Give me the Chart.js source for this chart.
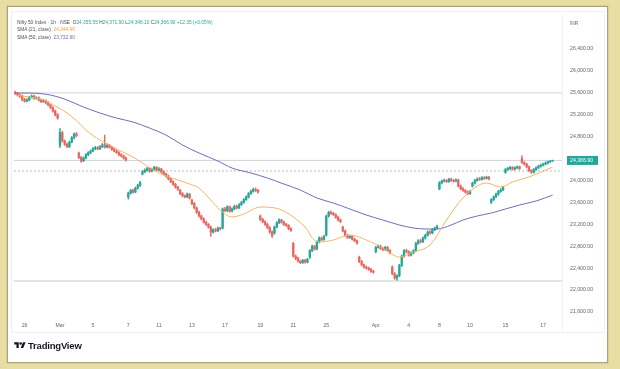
<!DOCTYPE html>
<html><head><meta charset="utf-8">
<script src="https://cdn.jsdelivr.net/npm/chart.js@4.4.1/dist/chart.umd.min.js"></script>
<style>
html,body{margin:0;padding:0;width:620px;height:369px;overflow:hidden;background:#e8dda3;font-family:"Liberation Sans",Arial,sans-serif;}
#card{position:absolute;left:7px;top:6px;width:599px;height:355px;background:#fff;border:1px solid #a9a382;box-shadow:0 0 1px #8c8668;}
#widget{position:absolute;left:11px;top:11px;width:592px;height:320px;border:1px solid #eef0f3;}
canvas{position:absolute;left:0;top:0;}
.lg{position:absolute;left:17px;font-size:4.8px;line-height:6px;color:#4a4d57;white-space:nowrap;}
.g{color:#26a69a;}
.o{color:#f0a04a;}
.p{color:#6b6ab5;}
#inr{position:absolute;left:570px;top:21px;font-size:4.8px;line-height:6px;color:#666;}
#logo{position:absolute;left:14px;top:339px;height:12px;display:flex;align-items:center;gap:2px;color:#131722;font-weight:bold;font-size:9.5px;letter-spacing:-0.2px;}
</style>
</head><body>
<div id="card"></div>
<div id="widget"></div>
<canvas id="c" width="620" height="369"></canvas>
<div class="lg" style="top:19.5px">Nifty 50 Index · 1h · NSE&nbsp; O<span class="g">24,355.55</span> H<span class="g">24,371.90</span> L<span class="g">24,348.10</span> C<span class="g">24,366.90</span> <span class="g">+12.35 (+0.05%)</span></div>
<div class="lg" style="top:27px">SMA (21, close)&nbsp; <span class="o">24,244.96</span></div>
<div class="lg" style="top:34.5px">SMA (50, close)&nbsp; <span class="p">23,732.90</span></div>
<div id="inr">INR</div>
<div id="logo"><svg width="12" height="9" viewBox="0 0 36 28"><path fill="#131722" d="M14 22H7V11H0V4h14v18zM28 22h-8l7.5-18h8L28 22z"/><circle cx="20" cy="8" r="4" fill="#131722"/></svg><span>TradingView</span></div>
<script>
const opens = [
25610,25590,25560,25540,25480,25450,25470,25520,25540,25500,
25510,25470,25440,25460,25420,25380,25330,25270,25200,24640,
24870,24720,24660,24620,24700,24780,24850,24500,24420,24360,
24410,24470,24510,24540,24580,24600,24580,24620,24650,24610,
24640,24610,24570,24540,24510,24470,24450,24410,23700,23770,
23820,23790,23860,23910,24120,24160,24190,24220,24170,24200,
24240,24190,24210,24160,24120,24080,24030,23980,23930,23880,
23820,23760,23720,23700,23750,23640,23580,23500,23420,23350,
23300,23240,23200,23150,23060,23100,23080,23130,23130,23480,
23450,23520,23440,23480,23530,23500,23560,23600,23650,23700,
23760,23800,23840,23820,23350,23290,23250,23200,23140,23060,
23040,23150,23230,23280,23240,23200,23180,23120,22850,22620,
22580,22530,22500,22540,22510,22600,22720,22800,22750,22880,
22950,22920,23000,23350,23420,23400,23380,23330,23280,23150,
23080,23000,22960,22980,22930,22900,22600,22520,22460,22420,
22400,22380,22340,22700,22780,22800,22760,22740,22780,22720,
22420,22300,22220,22260,22450,22620,22720,22700,22640,22680,
22720,22850,22900,22880,22950,23000,23060,23040,23100,23130,
23850,23960,23990,24000,23980,24020,24000,23990,24010,23900,
23850,23820,23790,23760,23900,23950,24000,24030,24020,24050,
24040,24060,23600,23650,23700,23750,23800,23830,24150,24200,
24220,24240,24210,24230,24250,24400,24330,24300,24250,24180,
24150,24200,24230,24260,24280,24300,24320,24340,24355.55];
const closes = [
25590,25560,25540,25480,25450,25470,25520,25540,25500,25510,
25470,25440,25460,25420,25380,25330,25270,25200,25140,24880,
24720,24660,24620,24700,24780,24850,24820,24420,24360,24410,
24470,24510,24540,24580,24600,24580,24620,24650,24610,24640,
24610,24570,24540,24510,24470,24450,24410,24380,23770,23820,
23790,23860,23910,23960,24160,24190,24220,24170,24200,24240,
24190,24210,24160,24120,24080,24030,23980,23930,23880,23840,
23760,23720,23700,23750,23680,23580,23500,23420,23350,23300,
23240,23200,23150,23060,23100,23080,23130,23120,23480,23450,
23520,23440,23480,23530,23500,23560,23600,23650,23700,23760,
23800,23840,23820,23790,23290,23250,23200,23140,23060,22990,
23150,23230,23280,23240,23200,23180,23120,23090,22620,22580,
22530,22500,22540,22510,22560,22720,22800,22750,22880,22950,
22920,22980,23350,23420,23400,23380,23330,23280,23250,23080,
23000,22960,22980,22930,22900,22860,22520,22460,22420,22400,
22380,22340,22330,22780,22800,22760,22740,22780,22720,22680,
22300,22220,22260,22450,22620,22720,22700,22640,22680,22720,
22850,22900,22880,22950,23000,23060,23040,23100,23130,23160,
23960,23990,24000,23980,24020,24000,23990,24010,23900,23850,
23820,23790,23760,23800,23950,24000,24030,24020,24050,24040,
24060,24030,23650,23700,23750,23800,23830,23880,24200,24220,
24240,24210,24230,24250,24220,24330,24300,24250,24180,24150,
24200,24230,24260,24280,24300,24320,24340,24355,24366.9];
const highs = [
25635,25610,25575,25560,25500,25495,25540,25565,25560,25530,
25530,25490,25480,25475,25440,25395,25350,25285,25220,24950,
24900,24740,24685,24720,24800,24870,24875,24520,24440,24430,
24490,24530,24560,24600,24625,24620,24640,24675,24830,24665,
24660,24625,24590,24560,24530,24490,24465,24430,23790,23840,
23845,23880,23935,23985,24180,24215,24240,24235,24225,24260,
24255,24235,24225,24180,24135,24100,24045,24000,23950,23895,
23840,23780,23740,23770,23765,23660,23600,23515,23440,23370,
23320,23260,23215,23170,23120,23125,23150,23150,23500,23510,
23540,23535,23500,23550,23550,23580,23620,23670,23720,23780,
23825,23860,23865,23840,23370,23310,23265,23220,23160,23080,
23170,23250,23300,23295,23260,23220,23195,23140,22870,22640,
22600,22545,22560,22560,22580,22740,22820,22815,22900,22970,
22970,23000,23370,23440,23445,23420,23395,23350,23300,23170,
23100,23015,23000,22995,22950,22915,22620,22540,22475,22440,
22420,22395,22360,22800,22825,22820,22780,22800,22795,22740,
22440,22320,22280,22470,22640,22740,22745,22715,22700,22740,
22870,22920,22925,22970,23020,23080,23085,23120,23150,23185,
23980,24010,24025,24020,24040,24045,24020,24030,24025,23920,
23870,23835,23810,23820,23970,24020,24050,24055,24070,24070,
24080,24075,23670,23720,23770,23820,23850,23900,24220,24240,
24260,24255,24250,24270,24265,24450,24345,24315,24265,24200,
24220,24250,24280,24300,24320,24340,24355,24365,24371.9];
const lows = [
25570,25540,25515,25455,25430,25435,25455,25505,25480,25485,
25450,25420,25425,25400,25360,25310,25250,25180,25120,24600,
24700,24640,24600,24600,24685,24760,24800,24400,24330,24345,
24395,24455,24490,24525,24560,24560,24565,24600,24590,24595,
24590,24550,24520,24495,24450,24430,24390,24355,23660,23750,
23770,23775,23840,23890,24100,24145,24170,24150,24155,24185,
24170,24175,24140,24100,24060,24010,23960,23910,23860,23820,
23740,23700,23680,23685,23660,23560,23480,23400,23330,23280,
23220,23180,23130,22980,23040,23060,23065,23100,23115,23430,
23430,23420,23425,23465,23480,23485,23545,23585,23635,23680,
23745,23785,23800,23770,23270,23230,23180,23120,23040,22960,
23020,23135,23210,23220,23180,23160,23100,23070,22600,22555,
22510,22480,22485,22490,22495,22580,22700,22730,22735,22860,
22900,22905,22985,23330,23380,23360,23310,23260,23230,23060,
22980,22940,22945,22910,22880,22840,22500,22440,22400,22380,
22360,22320,22305,22680,22765,22740,22720,22725,22700,22660,
22280,22195,22180,22245,22430,22600,22680,22620,22625,22660,
22700,22835,22860,22865,22930,22985,23020,23025,23085,23110,
23830,23940,23975,23960,23965,23985,23970,23975,23880,23830,
23800,23770,23740,23745,23880,23935,23985,24000,24005,24020,
24025,24010,23580,23635,23685,23730,23785,23815,24130,24185,
24200,24190,24195,24215,24200,24310,24280,24230,24160,24130,
24135,24185,24215,24245,24265,24285,24305,24330,24348.1];

const xLabels = ['26','Mar','5','7','11','13','17','19','21','25','Apr','4','8','10','15','17'];
const xLabelIdx = [4,19,33,48,61,75,89,104,118,132,153,167,180,193,208,224];
const yTicks = [26400,26000,25600,25200,24800,24000,23600,23200,22800,22400,22000,21600];

const sma21Idx = [0,6,12,17,22,26,30,36,40,44,50,54,61,69,74,78,83,87,92,97,104,112,118,124,126,129,135,142,149,156,163,169,176,183,190,200,206,211,218,228];
const sma21Val = [25560,25524,25469,25360,25232,25093,24921,24739,24648,24556,24429,24319,24137,24009,23936,23863,23644,23461,23334,23388,23516,23480,23334,23096,22950,22877,22914,23005,22914,22768,22604,22695,22823,23279,23681,23954,23881,23973,24064,24244.96];
const sma50Idx = [0,6,15,21,29,36,43,50,57,64,71,78,86,92,100,107,114,121,128,135,142,149,156,163,169,174,179,185,190,196,202,208,214,221,228];
const sma50Val = [25597,25597,25560,25487,25341,25232,25140,25068,24958,24830,24648,24502,24356,24228,24137,24046,23936,23826,23681,23589,23480,23370,23279,23188,23133,23115,23115,23188,23279,23352,23407,23480,23553,23626,23732.9];

const levels = [25600, 24175, 22165];

const UP = '#2aa699', DOWN = '#e8675f';
const barColors = closes.map((c,i)=> c >= opens[i] ? UP : DOWN);
const bodies = closes.map((c,i)=>({x:i, y:[opens[i], c]}));
const wicks = closes.map((c,i)=>({x:i, y:[lows[i], highs[i]]}));
const lastClose = closes[closes.length-1];
const XMIN = -0.5, XMAX = 232;
const FONT = '"Liberation Sans", Arial, sans-serif';

function hline(v, color, dash){
  return {type:'line', data:[{x:XMIN,y:v},{x:XMAX,y:v}], borderColor:color, borderWidth:1, borderDash:dash||[], pointRadius:0, order:4};
}

const overlay = {
  id:'overlay',
  afterDraw(chart){
    const {ctx, chartArea:a, scales:{y}} = chart;
    const py = y.getPixelForValue(lastClose);
    ctx.save();
    ctx.strokeStyle = '#f0f1f4'; ctx.lineWidth = 1;
    ctx.beginPath(); ctx.moveTo(a.right+0.5, a.top); ctx.lineTo(a.right+0.5, a.bottom+13); ctx.stroke();
    ctx.fillStyle = '#26a69a';
    ctx.fillRect(a.right+5, py-4.5, 31, 9);
    ctx.fillStyle = '#fff';
    ctx.font = '5.2px ' + FONT;
    ctx.textBaseline = 'middle'; ctx.textAlign = 'left';
    ctx.fillText(lastClose.toLocaleString('en-US',{minimumFractionDigits:2, maximumFractionDigits:2}), a.right+8, py+0.5);
    ctx.restore();
  }
};

new Chart(document.getElementById('c'), {
  type:'bar',
  data:{datasets:[
    {type:'line', label:'SMA (21, close)', data:sma21Idx.map((x,k)=>({x, y:sma21Val[k]})), borderColor:'#f3b566', borderWidth:1, pointRadius:0, cubicInterpolationMode:'monotone', order:0},
    {type:'line', label:'SMA (50, close)', data:sma50Idx.map((x,k)=>({x, y:sma50Val[k]})), borderColor:'#6e6db8', borderWidth:1, pointRadius:0, cubicInterpolationMode:'monotone', order:0},
    {label:'body', data:bodies, backgroundColor:barColors, barThickness:1.7, grouped:false, order:1},
    {label:'wick', data:wicks, backgroundColor:barColors, barThickness:0.8, grouped:false, order:2},
    hline(levels[0], '#cfd2d8'),
    hline(lastClose, '#cfd2d8'),
    hline(levels[1], '#b9bcc4', [2,2]),
    hline(levels[2], '#c4c7ce')
  ]},
  options:{
    responsive:false, animation:false, devicePixelRatio:1,
    layout:{padding:{left:14, top:14, right:0, bottom:0}},
    plugins:{legend:{display:false}, tooltip:{enabled:false}},
    scales:{
      x:{type:'linear', min:XMIN, max:XMAX, offset:false,
        grid:{display:false, drawTicks:false}, border:{display:false},
        afterBuildTicks:s=>{ s.ticks = xLabelIdx.map(v=>({value:v})); },
        ticks:{callback:(v,i)=>xLabels[i], autoSkip:false, maxRotation:0, padding:4.5, color:'#666', font:{size:5.2, family:FONT}},
        afterFit:s=>{ s.height = 51; }
      },
      y:{position:'right', min:21490, max:27040,
        grid:{display:false, drawTicks:false}, border:{display:false},
        afterBuildTicks:s=>{ s.ticks = yTicks.map(v=>({value:v})); },
        ticks:{callback:v=>v.toLocaleString('en-US',{minimumFractionDigits:2, maximumFractionDigits:2}), padding:8, color:'#666', font:{size:5.2, family:FONT}},
        afterFit:s=>{ s.width = 58; }
      }
    }
  },
  plugins:[overlay]
});
</script>
</body></html>
